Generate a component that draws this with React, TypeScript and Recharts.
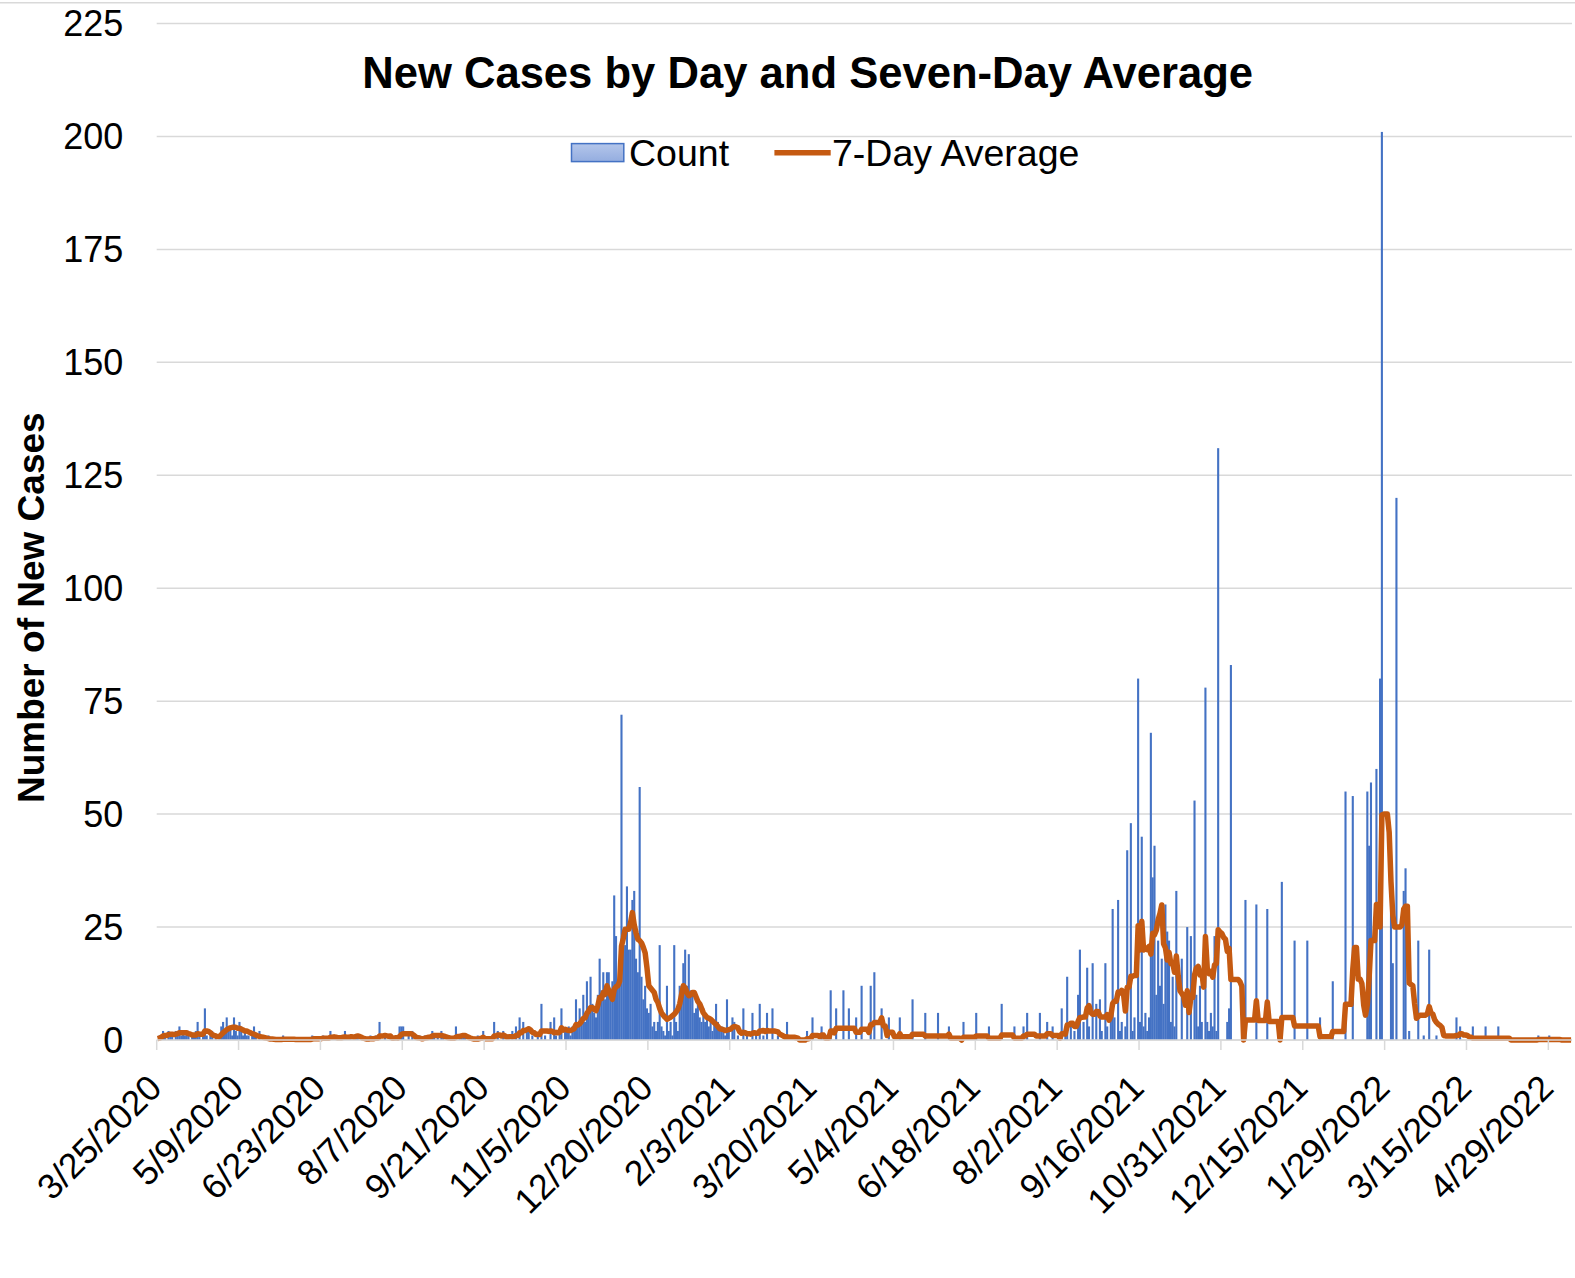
import { ComposedChart, Bar, Line, XAxis, YAxis, CartesianGrid } from 'recharts';

// x-axis labels, one every 45 days starting 3/25/2020
const tickLabels = [
  '3/25/2020', '5/9/2020', '6/23/2020', '8/7/2020', '9/21/2020', '11/5/2020',
  '12/20/2020', '2/3/2021', '3/20/2021', '5/4/2021', '6/18/2021', '8/2/2021',
  '9/16/2021', '10/31/2021', '12/15/2021', '1/29/2022', '3/15/2022', '4/29/2022',
];
const yTicks = [0, 25, 50, 75, 100, 125, 150, 175, 200, 225];

// daily counts, in 45-day blocks (block starts at each tick label)
const count_2020_03_25 = [0,1,1,2,1,0,2,1,1,0,2,1,3,1,2,1,2,1,0,1,1,2,4,1,0,1,7,1,0,1,2,0,1,0,1,3,4,2,5,2,3,1,5,2,1];
const count_2020_05_09 = [4,3,1,2,1,1,0,1,3,1,0,2,0,1,0,0,1,0,0,0,0,0,0,0,1,0,0,0,0,0,0,0,0,0,0,0,0,0,0,0,1,0,0,0,0];
const count_2020_06_23 = [0,1,0,0,0,2,0,1,0,0,0,0,1,2,0,0,1,0,0,1,1,0,0,0,0,0,0,1,0,0,1,0,4,0,0,1,0,0,1,0,0,1,0,3,3];
const count_2020_08_07 = [3,0,0,1,0,2,0,0,0,1,0,0,1,0,1,1,2,1,0,1,0,2,1,0,0,1,0,0,0,3,0,1,1,1,1,0,0,0,0,0,0,1,0,0,2];
const count_2020_09_21 = [0,0,0,0,0,4,0,2,0,0,2,0,0,1,0,2,0,3,0,5,0,4,0,2,3,0,1,0,0,1,0,8,0,1,0,0,4,0,5,1,0,2,7,0,2];
const count_2020_11_05 = [2,3,1,3,2,9,3,7,5,10,4,13,6,14,8,6,5,10,18,11,15,9,15,15,11,13,32,23,12,13,72,20,21,34,20,20,31,33,18,15,56,14,9,12,7];
const count_2020_12_20 = [6,8,3,4,2,4,21,3,2,1,12,2,4,1,21,4,2,12,9,17,20,12,19,11,10,6,7,8,5,4,7,4,5,3,5,2,4,8,4,3,3,2,1,9,2];
const count_2021_02_03 = [0,5,4,0,1,0,0,7,0,2,0,0,6,0,2,0,8,0,1,0,6,0,0,7,0,0,1,0,0,0,0,4,0,0,0,0,0,0,0,0,0,0,2,0,0];
const count_2021_03_20 = [5,0,0,0,0,3,0,0,0,0,11,0,0,7,0,0,0,11,0,0,7,0,0,0,5,0,0,12,0,0,0,0,12,0,15,0,0,0,7,0,0,0,5,0,0];
const count_2021_05_04 = [0,0,0,5,0,0,0,0,0,0,9,0,0,0,0,0,0,6,0,0,0,0,0,0,6,0,0,0,0,0,3,0,0,0,0,0,0,0,4,0,0,0,0,0,0];
const count_2021_06_18 = [6,0,0,0,0,0,0,3,0,0,0,0,0,0,8,0,0,0,0,0,0,3,0,0,0,0,3,0,6,0,0,0,0,0,0,6,0,0,0,4,0,0,3,0,0];
const count_2021_08_02 = [0,0,7,0,2,14,0,3,0,2,0,10,20,0,4,0,16,3,0,17,0,8,0,9,2,0,17,3,0,6,29,5,0,31,2,4,0,3,42,0,48,2,5,0,80];
const count_2021_09_16 = [4,45,3,6,2,5,68,36,43,10,22,12,18,8,30,24,22,4,14,3,33,0,0,18,0,0,25,0,23,0,53,10,3,12,4,0,78,4,2,6,3,23,2,131,0];
const count_2021_10_31 = [0,0,0,4,7,83,0,0,0,0,0,0,0,31,0,0,0,0,0,30,0,0,0,0,0,29,0,0,0,0,0,0,0,35,0,0,0,0,0,0,22,0,0,0,0];
const count_2021_12_15 = [0,0,22,0,0,0,0,0,0,5,0,0,0,0,0,0,13,0,0,0,0,0,0,55,0,0,0,54,0,0,0,0,0,0,0,55,43,57,0,0,60,0,80,201,0];
const count_2022_01_29 = [0,0,0,28,17,0,120,0,0,0,33,38,0,2,0,0,0,0,22,0,0,1,0,0,20,0,0,0,1,0,0,0,0,0,0,0,0,0,0,5,0,3,0,0,0];
const count_2022_03_15 = [0,0,0,3,0,0,0,0,0,0,3,0,0,0,0,0,0,3,0,0,0,0,0,0,0,0,0,0,0,0,0,0,0,0,0,0,0,0,0,1,0,0,0,0,0];
const count_2022_04_29 = [1,0,0,0,0,0,0,0,0,0,0,0,0];

// 7-day average, same blocks
const avg_2020_03_25 = [0.3,0.4,0.6,0.9,1.0,1.0,1.2,1.3,1.3,1.2,1.3,1.4,1.6,1.6,1.6,1.6,1.6,1.4,1.3,1.1,1.1,1.1,1.4,1.3,1.3,1.3,2.0,2.0,1.9,1.6,1.2,1.0,0.9,0.7,0.8,1.2,1.6,1.9,2.3,2.5,2.7,2.8,2.8,2.8,2.6];
const avg_2020_05_09 = [2.6,2.4,2.2,2.0,2.0,1.8,1.6,1.4,1.3,1.1,0.9,0.8,0.7,0.6,0.5,0.4,0.3,0.2,0.2,0.15,0.1,0.1,0.1,0.1,0.15,0.15,0.15,0.15,0.15,0.15,0.15,0.1,0.1,0.1,0.1,0.1,0.1,0.1,0.1,0.1,0.2,0.3,0.3,0.3,0.3];
const avg_2020_06_23 = [0.3,0.4,0.4,0.4,0.4,0.6,0.6,0.7,0.6,0.5,0.5,0.5,0.6,0.7,0.6,0.6,0.7,0.7,0.6,0.8,0.9,0.8,0.6,0.4,0.3,0.2,0.2,0.3,0.3,0.3,0.4,0.4,0.9,0.9,0.9,1.0,0.9,0.8,0.9,0.4,0.4,0.5,0.4,0.8,1.2];
const avg_2020_08_07 = [1.4,1.4,1.4,1.4,1.4,1.3,1.0,0.6,0.5,0.4,0.3,0.3,0.4,0.5,0.6,0.7,0.9,1.0,1.0,1.0,1.0,1.0,0.9,0.8,0.6,0.5,0.4,0.4,0.4,0.6,0.8,0.8,0.9,1.0,1.0,0.8,0.6,0.4,0.3,0.2,0.2,0.2,0.3,0.4,0.6];
const avg_2020_09_21 = [0.3,0.3,0.3,0.3,0.3,0.9,0.9,1.1,1.1,0.9,1.1,0.9,0.6,0.7,0.7,0.7,0.7,1.0,1.0,1.6,1.6,2.1,2.1,2.3,2.5,2.2,1.7,1.6,1.2,1.3,1.2,2.0,2.0,2.0,2.0,1.9,2.0,1.9,1.6,1.7,1.6,1.7,2.7,2.2,2.4];
const avg_2020_11_05 = [2.2,2.1,2.1,2.3,2.5,3.4,3.3,3.6,4.1,4.8,4.9,5.9,6.4,7.2,7.2,6.8,6.5,7.6,9.4,9.2,10.5,10.1,12.0,11.0,10.0,9.0,11.2,11.8,12.0,13.0,20.8,22.5,24.5,24.5,24.5,26.0,28.2,25.5,23.7,22.3,22.0,21.5,20.5,19.3,16.0];
const avg_2020_12_20 = [12.0,11.5,11.0,10.5,9.0,8.3,7.0,6.0,5.5,5.0,4.6,4.8,5.0,5.4,5.7,6.2,6.8,8.0,10.0,12.0,11.5,10.5,9.8,10.0,10.5,10.5,9.5,8.5,8.0,7.0,6.0,5.5,5.0,4.8,4.6,4.2,3.8,3.5,3.0,2.5,2.4,2.3,2.1,2.2,2.3];
const avg_2021_02_03 = [2.4,2.8,3.0,2.9,2.7,1.8,1.5,1.7,1.6,1.4,1.4,1.3,1.5,1.6,1.5,1.5,2.0,2.0,2.1,1.9,2.1,2.0,2.0,2.0,2.0,1.9,1.8,1.3,1.1,0.9,0.6,0.7,0.6,0.6,0.6,0.6,0.5,0.4,0,0,0,0,0.3,0.3,0.4];
const avg_2021_03_20 = [1.0,1.0,1.0,1.0,0.7,1.1,1.1,0.4,0.4,0.4,2.0,2.0,1.6,2.6,2.6,2.6,2.6,2.6,2.6,2.6,2.6,2.6,2.6,2.6,1.7,1.7,1.7,2.4,2.4,2.4,2.4,1.7,3.4,3.4,3.9,3.9,3.9,3.9,4.9,3.1,3.1,1.0,1.7,1.7,1.7];
const avg_2021_05_04 = [0.7,0.7,0.7,1.4,0.7,0.7,0.7,0.7,0.7,0.7,1.3,1.3,1.3,1.3,1.3,1.3,1.3,0.9,0.9,0.9,0.9,0.9,0.9,0.9,0.9,0.9,0.9,0.9,0.9,0.9,1.3,0.4,0.4,0.4,0.4,0.4,0.4,0,0.6,0.6,0.6,0.6,0.6,0.6,0.6];
const avg_2021_06_18 = [0.9,0.9,0.9,0.9,0.9,0.9,0.9,0.4,0.4,0.4,0.4,0.4,0.4,0.4,1.1,1.1,1.1,1.1,1.1,1.1,1.1,0.4,0.4,0.4,0.4,0.4,0.9,0.9,1.3,1.3,1.3,1.3,1.3,0.9,0.9,0.9,0.9,0.9,0.9,1.4,1.4,1.4,1.0,1.0,1.0];
const avg_2021_08_02 = [1.0,0.4,1.4,1.4,1.3,3.3,3.3,3.7,3.7,3.0,3.0,4.1,5.0,5.0,5.1,5.1,7.1,7.6,6.1,5.7,5.7,6.3,6.3,5.3,5.1,5.1,5.1,5.6,4.4,5.3,8.1,8.6,8.6,10.6,10.4,11.0,10.1,6.4,11.7,11.7,14.1,14.1,14.3,14.3,25.3];
const avg_2021_09_16 = [19.9,26.3,19.9,20.4,20.0,20.7,19.0,23.6,23.3,24.3,26.6,28.0,29.9,21.3,20.4,17.7,19.4,16.9,17.1,15.0,18.6,14.3,10.9,10.3,9.7,7.7,10.9,6.1,9.4,9.4,14.4,15.9,16.3,14.4,15.0,11.7,22.9,15.9,14.7,15.1,13.9,16.6,16.9,24.4,23.9];
const avg_2021_10_31 = [23.6,22.7,22.3,19.6,20.3,13.4,13.4,13.4,13.4,13.4,12.9,11.9,0,4.4,4.4,4.4,4.4,4.4,4.4,8.7,4.3,4.3,4.3,4.3,4.3,8.4,4.1,4.1,4.1,4.1,4.1,4.1,0,5.0,5.0,5.0,5.0,5.0,5.0,5.0,3.1,3.1,3.1,3.1,3.1];
const avg_2021_12_15 = [3.1,3.1,3.1,3.1,3.1,3.1,3.1,3.1,3.1,0.7,0.7,0.7,0.7,0.7,0.7,0.7,1.9,1.9,1.9,1.9,1.9,1.9,1.9,7.9,7.9,7.9,7.9,15.6,20.5,20.5,13.5,13.5,12.5,7.7,5.5,7.9,14.0,22.0,22.0,22.0,30.0,30.0,25.0,49.8,50.0];
const avg_2022_01_29 = [50.0,50.0,46.0,35.0,27.6,25.0,25.0,25.0,25.0,25.5,29.0,29.6,29.6,12.6,12.3,12.0,8.0,4.8,5.2,5.5,5.5,5.5,5.5,5.8,7.4,6.0,5.7,4.5,3.9,3.5,3.2,2.8,1.0,0.9,0.9,0.9,0.9,0.9,0.9,1.0,1.0,1.4,1.4,1.1,1.1];
const avg_2022_03_15 = [1.0,0.7,0.6,0.4,0.4,0.4,0.4,0.4,0.4,0.4,0.4,0.4,0.4,0.4,0.4,0.4,0.4,0.4,0.4,0.4,0.4,0.4,0.4,0.4,0,0,0,0,0,0,0,0,0,0,0,0,0,0,0,0.1,0.1,0.1,0.1,0.1,0.1];
const avg_2022_04_29 = [0.1,0.1,0.1,0.1,0.1,0.1,0.1,0,0,0,0,0,0];

const counts = [
  ...count_2020_03_25, ...count_2020_05_09, ...count_2020_06_23, ...count_2020_08_07,
  ...count_2020_09_21, ...count_2020_11_05, ...count_2020_12_20, ...count_2021_02_03,
  ...count_2021_03_20, ...count_2021_05_04, ...count_2021_06_18, ...count_2021_08_02,
  ...count_2021_09_16, ...count_2021_10_31, ...count_2021_12_15, ...count_2022_01_29,
  ...count_2022_03_15, ...count_2022_04_29,
];
const averages = [
  ...avg_2020_03_25, ...avg_2020_05_09, ...avg_2020_06_23, ...avg_2020_08_07,
  ...avg_2020_09_21, ...avg_2020_11_05, ...avg_2020_12_20, ...avg_2021_02_03,
  ...avg_2021_03_20, ...avg_2021_05_04, ...avg_2021_06_18, ...avg_2021_08_02,
  ...avg_2021_09_16, ...avg_2021_10_31, ...avg_2021_12_15, ...avg_2022_01_29,
  ...avg_2022_03_15, ...avg_2022_04_29,
];

// each day sits in the middle of its slot, ticks fall on slot edges
const data = counts.map((c, i) => ({ day: i + 0.5, count: c, avg: averages[i] }));
const dayTicks = tickLabels.map((_, i) => i * 45);

const FONT = 'Liberation Sans, Arial, Helvetica, sans-serif';
const GRID = '#d9d9d9';
const BAR_W = 2.1;

function DateTick(props: any) {
  const { x, y, payload } = props;
  const label = tickLabels[Math.round(payload.value / 45)];
  const px = x + 7;
  const py = y + 40;
  return (
    <text
      x={px}
      y={py}
      transform={`rotate(-45 ${px} ${py})`}
      textAnchor="end"
      fontSize={35.5}
      fontFamily={FONT}
      fill="#000"
    >
      {label}
    </text>
  );
}

function ValueTick(props: any) {
  const { x, y, payload } = props;
  return (
    <text x={x} y={y} dy={12.9} textAnchor="end" fontSize={36} fontFamily={FONT} fill="#000">
      {payload.value}
    </text>
  );
}

// thin daily column, kept centred on its day
function DayBar(props: any) {
  const { x, y, width, height } = props;
  if (!height || height <= 0) return null;
  const cx = x + width / 2;
  return <rect x={cx - BAR_W / 2} y={y} width={BAR_W} height={height} fill="#4472C4" />;
}

export default function App() {
  return (
    <div style={{ position: 'absolute', left: 0, top: 0, width: 1575, height: 1278, background: '#fff' }}>
      <ComposedChart
        width={1575}
        height={1278}
        data={data}
        margin={{ top: 23.5, right: 3, bottom: 0, left: 0 }}
      >
        <CartesianGrid vertical={false} stroke={GRID} strokeWidth={1.5} />
        <XAxis
          type="number"
          dataKey="day"
          domain={[0, counts.length]}
          ticks={dayTicks}
          interval={0}
          height={238}
          tickSize={10}
          tickMargin={0}
          tickLine={{ stroke: GRID, strokeWidth: 1.5 }}
          axisLine={{ stroke: GRID, strokeWidth: 1.5 }}
          tick={<DateTick />}
        />
        <YAxis
          domain={[0, 225]}
          ticks={yTicks}
          interval={0}
          width={156.7}
          axisLine={false}
          tickLine={false}
          tickSize={0}
          tickMargin={33.4}
          tick={<ValueTick />}
        />
        <Bar dataKey="count" fill="#4472C4" barSize={1.8} shape={<DayBar />} isAnimationActive={false} />
        <Line
          dataKey="avg"
          type="linear"
          stroke="#C55A11"
          strokeWidth={5.5}
          strokeLinejoin="round"
          dot={false}
          activeDot={false}
          isAnimationActive={false}
        />
      </ComposedChart>

      <svg
        width={1575}
        height={1278}
        style={{ position: 'absolute', left: 0, top: 0, pointerEvents: 'none' }}
      >
        <defs>
          <linearGradient id="countKey" x1="0" y1="0" x2="0" y2="1">
            <stop offset="0%" stopColor="#b4c6ea" />
            <stop offset="100%" stopColor="#94ade0" />
          </linearGradient>
        </defs>
        <line x1={0} x2={1575} y1={2.7} y2={2.7} stroke={GRID} strokeWidth={1.5} />
        <text x={807.6} y={87.5} textAnchor="middle" fontSize={43.6} fontWeight="bold" fontFamily={FONT} fill="#000">
          New Cases by Day and Seven-Day Average
        </text>
        <rect x={571.5} y={143.6} width={52.3} height={18} fill="url(#countKey)" stroke="#4472C4" strokeWidth={1.5} />
        <text x={629} y={166} fontSize={37.5} fontFamily={FONT} fill="#000">Count</text>
        <line x1={774.4} x2={830.7} y1={152.7} y2={152.7} stroke="#C55A11" strokeWidth={5.5} />
        <text x={832} y={166} fontSize={37.5} fontFamily={FONT} fill="#000">7-Day Average</text>
        <text
          x={44}
          y={607.7}
          transform="rotate(-90 44 607.7)"
          textAnchor="middle"
          fontSize={37}
          fontWeight="bold"
          fontFamily={FONT}
          fill="#000"
        >
          Number of New Cases
        </text>
      </svg>
    </div>
  );
}
